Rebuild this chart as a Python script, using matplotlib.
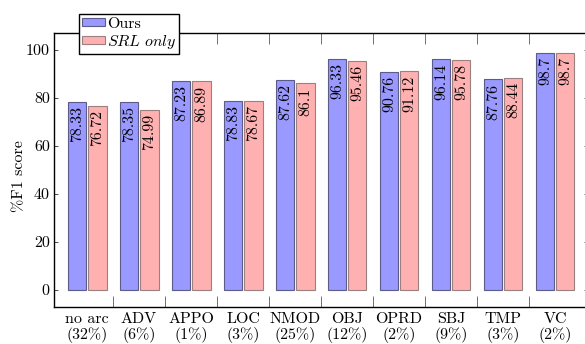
import matplotlib
matplotlib.use("Agg")
import matplotlib.pyplot as plt
import numpy as np
from matplotlib.patches import Patch

plt.rcParams['font.family'] = ['cmr10', 'DejaVu Serif']
plt.rcParams['mathtext.fontset'] = 'cm'
plt.rcParams['axes.unicode_minus'] = False
plt.rcParams['axes.formatter.use_mathtext'] = True

categories = ["no arc\n(32%)", "ADV\n(6%)", "APPO\n(1%)", "LOC\n(3%)", "NMOD\n(25%)",
              "OBJ\n(12%)", "OPRD\n(2%)", "SBJ\n(9%)", "TMP\n(3%)", "VC\n(2%)"]
ours = [78.33, 78.35, 87.23, 78.83, 87.62, 96.33, 90.76, 96.14, 87.76, 98.7]
srl_only = [76.72, 74.99, 86.89, 78.67, 86.1, 95.46, 91.12, 95.78, 88.44, 98.7]
ours_labels = ["78.33", "78.35", "87.23", "78.83", "87.62", "96.33", "90.76", "96.14", "87.76", "98.7"]
srl_labels = ["76.72", "74.99", "86.89", "78.67", "86.1", "95.46", "91.12", "95.78", "88.44", "98.7"]
yticks = [0, 20, 40, 60, 80, 100]

W, H = 585, 344
fig = plt.figure(figsize=(W / 100, H / 100), dpi=100)
left, right, top, bottom = 54, 588, 33, 307
ax = fig.add_axes([left / W, 1 - bottom / H, (right - left) / W, (bottom - top) / H])

x = np.arange(len(categories))
bw = 0.36
blue_fc, blue_ec = '#9999ff', '#5c5c8a'
pink_fc, pink_ec = '#ffb0b0', '#9a8080'
ax.bar(x - 0.19, ours, bw, color=blue_fc, edgecolor=blue_ec, linewidth=0.8, zorder=2)
ax.bar(x + 0.195, srl_only, bw, color=pink_fc, edgecolor=pink_ec, linewidth=0.8, zorder=2)

for xi, v, lab in zip(x, ours, ours_labels):
    ax.annotate(lab, (xi - 0.19, v), xytext=(0, -3), textcoords='offset points',
                rotation=90, ha='center', va='top', fontsize=11.5, zorder=3)
for xi, v, lab in zip(x, srl_only, srl_labels):
    ax.annotate(lab, (xi + 0.195, v), xytext=(0, -3), textcoords='offset points',
                rotation=90, ha='center', va='top', fontsize=11.5, zorder=3)

ax.set_xlim(-0.635, 9.635)
ax.set_ylim(-7.08, 107.08)

ax.set_xticks(x)
ax.set_xticklabels(categories, fontsize=11.5, linespacing=1.1)
ax.set_xticks(x[:-1] + 0.5, minor=True)
ax.tick_params(axis='x', which='major', length=0, pad=4)
ax.tick_params(axis='x', which='minor', direction='in', length=8.2, width=0.7,
               color='#707070', top=True, bottom=True)

ax.set_yticks(yticks)
ax.set_yticklabels([str(t) for t in yticks], fontsize=11.5)
ax.tick_params(axis='y', which='major', direction='in', length=3, width=0.6,
               left=True, right=True, pad=3, color='#303030')

for s in ax.spines.values():
    s.set_linewidth(1.0)
    s.set_color('black')

fig.text(19 / W, 1 - 176 / H, '%F1 score', rotation=90, ha='center', va='center', fontsize=11.5)

handles = [Patch(facecolor=blue_fc, edgecolor=blue_ec, linewidth=0.8),
           Patch(facecolor=pink_fc, edgecolor=pink_ec, linewidth=0.8)]
leg = fig.legend(handles, ['Ours', r'$\mathit{SRL\ only}$'], loc='upper left',
                 bbox_to_anchor=(79 / W, 1 - 14 / H), fontsize=11.5, frameon=True,
                 fancybox=False, framealpha=1, edgecolor='black', borderpad=0.2,
                 handlelength=1.45, handleheight=0.4, handletextpad=0.08,
                 labelspacing=0.1, borderaxespad=0)
leg.get_frame().set_linewidth(1.0)
leg.set_zorder(10)

fig.savefig('out.png', dpi=100)
